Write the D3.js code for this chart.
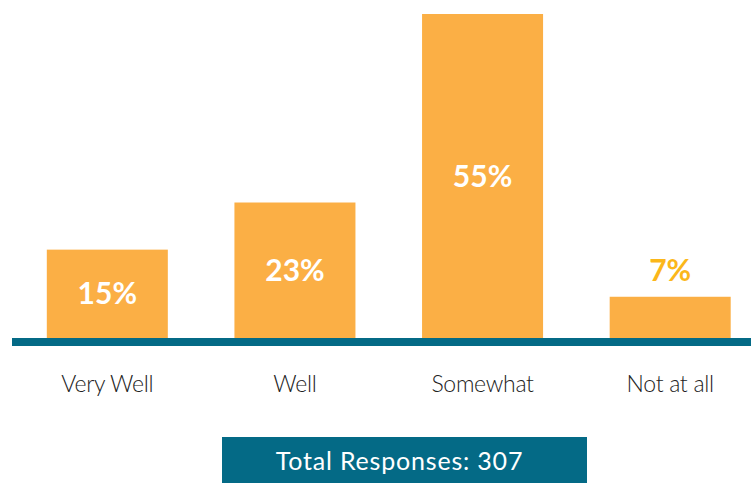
<!DOCTYPE html>
<html>
<head>
<meta charset="utf-8">
<script src="https://cdn.jsdelivr.net/npm/d3@7"></script>
<style>
  html, body { margin: 0; padding: 0; background: #ffffff; }
  svg { display: block; }
</style>
</head>
<body>
<svg id="chart" width="751" height="483"></svg>
<script>
// Survey answers and their share of responses (%)
const categories = ["Very Well", "Well", "Somewhat", "Not at all"];
const percents = [15, 23, 55, 7];
const totalResponses = 307;

const W = 751, H = 483;
const barColor = "#fbaf45";
const teal = "#046a86";
const smallLabelColor = "#fbb71a";

const svg = d3.select("#chart");

const x = d3.scaleBand()
  .domain(categories)
  .range([13.5, 764])
  .paddingInner(0.355)
  .paddingOuter(0.1775);

const y = d3.scaleLinear()
  .domain([0, 55])
  .range([338, 14]);

const rows = categories.map((c, i) => ({ cat: c, val: percents[i] }));

// bars
svg.append("g")
  .selectAll("rect")
  .data(rows)
  .join("rect")
  .attr("x", d => x(d.cat))
  .attr("y", d => y(d.val))
  .attr("width", x.bandwidth())
  .attr("height", d => y(0) - y(d.val))
  .attr("fill", barColor);

// baseline bar
svg.append("rect")
  .attr("x", 12)
  .attr("y", y(0))
  .attr("width", W - 12)
  .attr("height", 8)
  .attr("fill", teal);

// value labels: centred inside tall bars, above short ones
svg.append("g")
  .selectAll("text")
  .data(rows)
  .join("text")
  .attr("x", d => x(d.cat) + x.bandwidth() / 2)
  .attr("y", d => {
    const h = y(0) - y(d.val);
    return h > 60 ? y(d.val) + h / 2 + 10.5 : y(d.val) - 16;
  })
  .attr("text-anchor", "middle")
  .attr("font-family", "Lato, 'Open Sans', sans-serif")
  .attr("font-weight", 700)
  .attr("font-size", 30)
  .attr("fill", d => (y(0) - y(d.val)) > 60 ? "#ffffff" : smallLabelColor)
  .text(d => d.val + "%");

// category axis
const axis = svg.append("g")
  .attr("transform", `translate(0, ${y(0) + 8})`)
  .call(d3.axisBottom(x).tickSize(0).tickPadding(30));
axis.select(".domain").remove();
axis.selectAll("text")
  .attr("font-family", "Lato, 'Open Sans', sans-serif")
  .attr("font-weight", 300)
  .attr("font-size", 23)
  .attr("letter-spacing", -0.3)
  .attr("fill", "#222222");

// total responses box
const boxX = 222, boxW = 365, boxY = 437, boxH = 46;
svg.append("rect")
  .attr("x", boxX)
  .attr("y", boxY)
  .attr("width", boxW)
  .attr("height", boxH)
  .attr("fill", teal);
svg.append("text")
  .attr("x", boxX + boxW / 2 - 5)
  .attr("y", 470)
  .attr("text-anchor", "middle")
  .attr("font-family", "Lato, 'Open Sans', sans-serif")
  .attr("font-weight", 400)
  .attr("font-size", 25)
  .attr("letter-spacing", 0.8)
  .attr("fill", "#ffffff")
  .text("Total Responses: " + totalResponses);
</script>
</body>
</html>
